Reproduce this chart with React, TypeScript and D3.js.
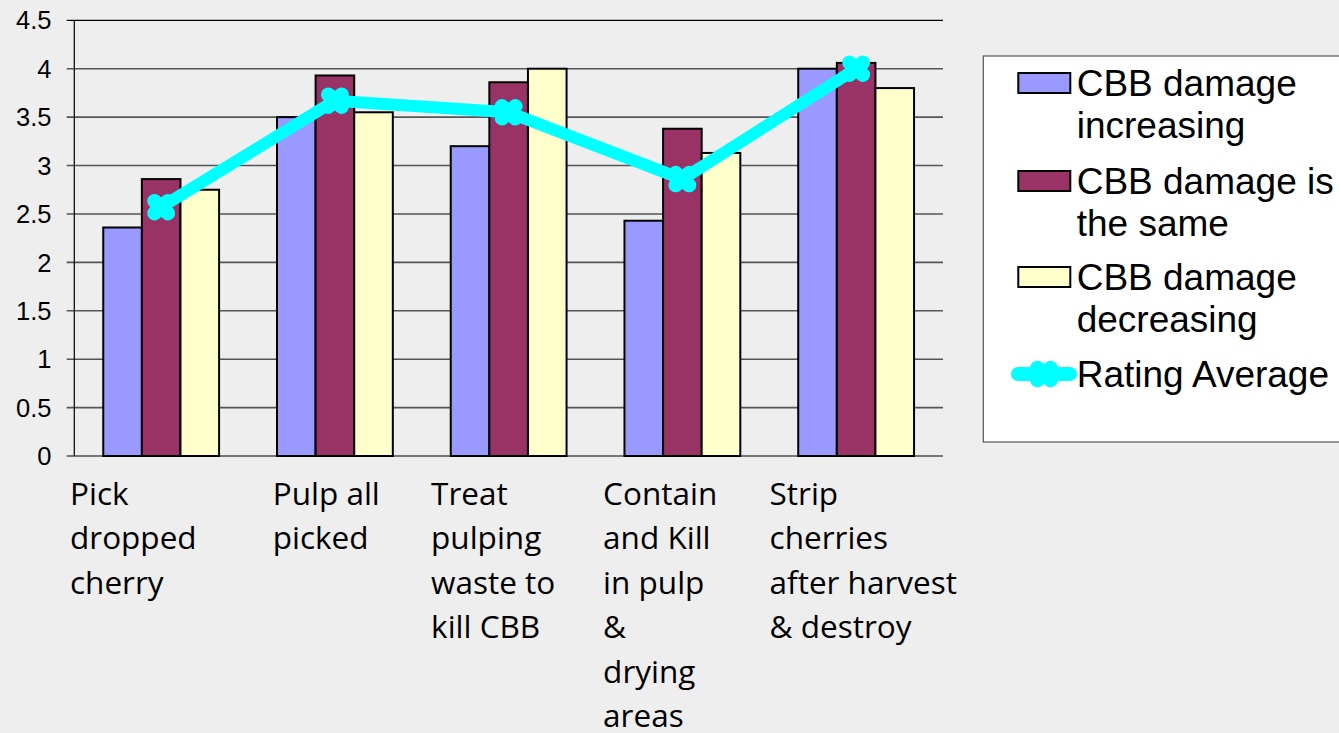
import React from "react";
import * as d3 from "d3";

const categories = [
  ["Pick", "dropped", "cherry"],
  ["Pulp all", "picked"],
  ["Treat", "pulping", "waste to", "kill CBB"],
  ["Contain", "and Kill", "in pulp", "&", "drying", "areas"],
  ["Strip", "cherries", "after harvest", "& destroy"],
];
const seriesNames = ["CBB damage increasing", "CBB damage is the same", "CBB damage decreasing"];
const legendLines = [
  ["CBB damage", "increasing"],
  ["CBB damage is", "the same"],
  ["CBB damage", "decreasing"],
];
const increasing = [2.36, 3.5, 3.2, 2.43, 4.0];
const same = [2.86, 3.93, 3.86, 3.38, 4.06];
const decreasing = [2.75, 3.55, 4.0, 3.13, 3.8];
const ratingAverage = [2.57, 3.67, 3.55, 2.86, 4.0];
const yTicks = [0, 0.5, 1, 1.5, 2, 2.5, 3, 3.5, 4, 4.5];
const barColors = ["#9999FF", "#993366", "#FFFFCC"];
const lineColor = "#00FFFF";

const W = 1339;
const H = 733;
const plot = { left: 74.3, right: 943, top: 20.3, bottom: 456 };
const labelOffsets = [-4.3, 24.7, 9.3, 7.6, 0.3];

function XMarker({ x, y }: { x: number; y: number }) {
  const dx = 6.7, dy = 6;
  return (
    <g stroke={lineColor} strokeWidth={14.5} strokeLinecap="round">
      <line x1={x - dx} y1={y - dy} x2={x + dx} y2={y + dy} />
      <line x1={x - dx} y1={y + dy} x2={x + dx} y2={y - dy} />
    </g>
  );
}

export default function App() {
  const series = [increasing, same, decreasing];
  const x0 = d3
    .scaleBand<number>()
    .domain(d3.range(categories.length))
    .range([plot.left, plot.right])
    .paddingInner(0)
    .paddingOuter(0);
  const step = x0.step();
  const barW = step / (3 + 1.5);
  const y = d3.scaleLinear().domain([0, 4.5]).range([plot.bottom, plot.top]);
  const center = (i: number) => (x0(i) as number) + step / 2;

  const lineGen = d3
    .line<number>()
    .x((_, i) => center(i))
    .y((v) => y(v));

  const legendX = 983.3;
  const legendY = 56;
  const entryY = [83, 181, 277];

  return (
    <svg
      width={W}
      height={H}
      style={{ position: "absolute", left: 0, top: 0, background: "#EEEEEE" }}
    >
      <rect x={0} y={0} width={W} height={H} fill="#EEEEEE" />
      {yTicks.map((t) => (
        <line
          key={"g" + t}
          x1={plot.left - 7.6}
          x2={plot.right}
          y1={y(t)}
          y2={y(t)}
          stroke={t === 4.5 || t === 0 ? "#000" : "#555"}
          strokeWidth={t === 4.5 || t === 0 ? 1.2 : 1.6}
        />
      ))}
      <line x1={plot.left} x2={plot.left} y1={plot.top} y2={plot.bottom} stroke="#000" strokeWidth={1.2} />
      {yTicks.map((t) => (
        <text
          key={"t" + t}
          x={51.5}
          y={y(t)}
          dy="0.36em"
          textAnchor="end"
          fontFamily="'Liberation Sans', Arial, sans-serif"
          fontSize={25.5}
          fill="#000"
        >
          {String(t)}
        </text>
      ))}
      {categories.map((_, i) =>
        series.map((s, k) => {
          const bx = center(i) - 1.5 * barW + k * barW;
          return (
            <rect
              key={`b${i}-${k}`}
              x={bx}
              y={y(s[i])}
              width={barW}
              height={plot.bottom - y(s[i])}
              fill={barColors[k]}
              stroke="#000"
              strokeWidth={2}
            />
          );
        })
      )}
      <path
        d={lineGen(ratingAverage) || ""}
        fill="none"
        stroke={lineColor}
        strokeWidth={12}
        strokeLinejoin="round"
      />
      {ratingAverage.map((v, i) => (
        <XMarker key={"m" + i} x={center(i)} y={y(v)} />
      ))}
      {categories.map((lines, i) => (
        <text
          key={"c" + i}
          fontFamily="'Open Sans', 'Noto Sans', sans-serif"
          fontSize={31.5}
          fill="#000"
        >
          {lines.map((ln, j) => (
            <tspan key={j} x={(x0(i) as number) + labelOffsets[i]} y={505 + j * 44.4}>
              {ln}
            </tspan>
          ))}
        </text>
      ))}
      <rect
        x={legendX}
        y={legendY}
        width={W - legendX + 10}
        height={442 - legendY}
        fill="#FFFFFF"
        stroke="#555"
        strokeWidth={1.2}
      />
      {seriesNames.map((name, k) => (
        <g key={"l" + k}>
          <title>{name}</title>
          <rect
            x={1018.3}
            y={entryY[k] - 10}
            width={52}
            height={20}
            fill={barColors[k]}
            stroke="#000"
            strokeWidth={2}
          />
          <text
            fontFamily="'Liberation Sans', Arial, sans-serif"
            fontSize={37}
            fill="#000"
          >
            {legendLines[k].map((ln, j) => (
              <tspan key={j} x={1076.7} y={entryY[k] + j * 42} dy="0.36em">
                {ln}
              </tspan>
            ))}
          </text>
        </g>
      ))}
      <g>
        <line x1={1018} x2={1070} y1={374} y2={374} stroke={lineColor} strokeWidth={14} strokeLinecap="round" />
        <XMarker x={1044} y={374} />
        <text
          x={1076.7}
          y={374}
          dy="0.36em"
          fontFamily="'Liberation Sans', Arial, sans-serif"
          fontSize={37}
          fill="#000"
        >
          Rating Average
        </text>
      </g>
    </svg>
  );
}
